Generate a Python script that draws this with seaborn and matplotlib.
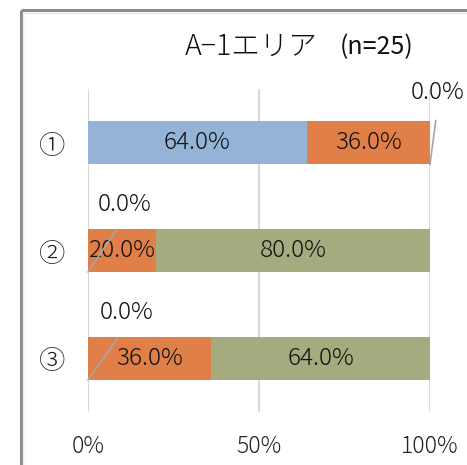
import matplotlib
matplotlib.use("Agg")
import matplotlib.pyplot as plt
import seaborn as sns
import numpy as np
import pandas as pd
from matplotlib.lines import Line2D

sns.set_theme(style="white")
plt.rcParams['font.family'] = ['Noto Sans CJK JP', 'DejaVu Sans']

categories = ['①', '②', '③']
blue = [64.0, 0.0, 0.0]
orange = [36.0, 20.0, 36.0]
green = [0.0, 80.0, 64.0]
xticks = [0, 50, 100]
xticklabels = ['0%', '50%', '100%']
title_main = 'A−1エリア'
title_n = '(n=25)'

c_blue = '#95B3D6'
c_orange = '#E07F48'
c_green = '#A5AB7F'

fig = plt.figure(figsize=(4.67, 4.65), dpi=100)
ax = fig.add_axes([88/467, 1-412/465, 342/467, 323/465])

df = pd.DataFrame({'cat': categories, 'blue': blue, 'orange': orange, 'green': green})
df['c1'] = df['blue']
df['c2'] = df['blue'] + df['orange']
df['c3'] = df['c2'] + df['green']

sns.barplot(data=df, y='cat', x='c3', color=c_green, width=0.4, orient='h', ax=ax,
            saturation=1, linewidth=0)
sns.barplot(data=df, y='cat', x='c2', color=c_orange, width=0.4, orient='h', ax=ax,
            saturation=1, linewidth=0)
sns.barplot(data=df, y='cat', x='c1', color=c_blue, width=0.4, orient='h', ax=ax,
            saturation=1, linewidth=0)

W = 'light'
ax.set_xlim(0, 100)
ax.set_ylim(2.5, -0.5)
ax.set_xticks(xticks)
ax.set_xticklabels(xticklabels, fontsize=16.5, color='#222222', fontweight=W)
for t in ax.get_yticklabels():
    t.set_fontweight(W)
ax.tick_params(axis='y', labelsize=19, pad=16, length=0, colors='#222222')
ax.tick_params(axis='x', pad=16, length=0)
ax.set_xlabel('')
ax.set_ylabel('')
for s in ax.spines.values():
    s.set_visible(False)
ax.grid(axis='x', color='#D9D9D9', linewidth=1.5)
ax.set_axisbelow(True)

fs = 17.5
for i in range(len(categories)):
    segs = [(0, blue[i]), (blue[i], orange[i]), (blue[i] + orange[i], green[i])]
    for start, val in segs:
        if val > 0:
            ax.text(start + val / 2, i, f'{val:.1f}%', ha='center', va='center',
                    fontsize=fs, color='#111111', fontweight=W)

zero_specs = [
    (0, 100.0, 0.2, 102.3, -0.47),
    (1, 0.0, 1.2, 10.8, 0.574),
    (2, 0.0, 2.2, 11.4, 1.574),
]
for i, x0, y0, tx, ty in zero_specs:
    ax.annotate('0.0%', xy=(x0, y0), xytext=(tx, ty), textcoords='data',
                ha='center', va='center', fontsize=fs, color='#111111', fontweight=W,
                annotation_clip=False,
                arrowprops=dict(arrowstyle='-', color='#A6A6A6', lw=1.2,
                                shrinkA=9, shrinkB=0, relpos=(0.5, 0.0)))

fig.text(185/467, 1-47/465, title_main, ha='left', va='center', fontsize=20.5,
         color='#111111', fontweight=W)
fig.text(340/467, 1-47/465, title_n, ha='left', va='center', fontsize=18,
         color='#111111')

# chart border (top and left edges visible)
fig.add_artist(Line2D([20.5/467, 1.0], [1-10.5/465, 1-10.5/465], transform=fig.transFigure,
                      color='#8C8C8C', linewidth=2.2, solid_capstyle='butt'))
fig.add_artist(Line2D([20.5/467, 20.5/467], [0.0, 1-10.5/465], transform=fig.transFigure,
                      color='#8C8C8C', linewidth=2.2, solid_capstyle='butt'))
fig.add_artist(Line2D([23/467, 1.0], [1-13/465, 1-13/465], transform=fig.transFigure,
                      color='#E8E8E8', linewidth=1.0))
fig.add_artist(Line2D([23/467, 23/467], [0.0, 1-13/465], transform=fig.transFigure,
                      color='#E8E8E8', linewidth=1.0))

fig.savefig('out.png', dpi=100, facecolor='white')
